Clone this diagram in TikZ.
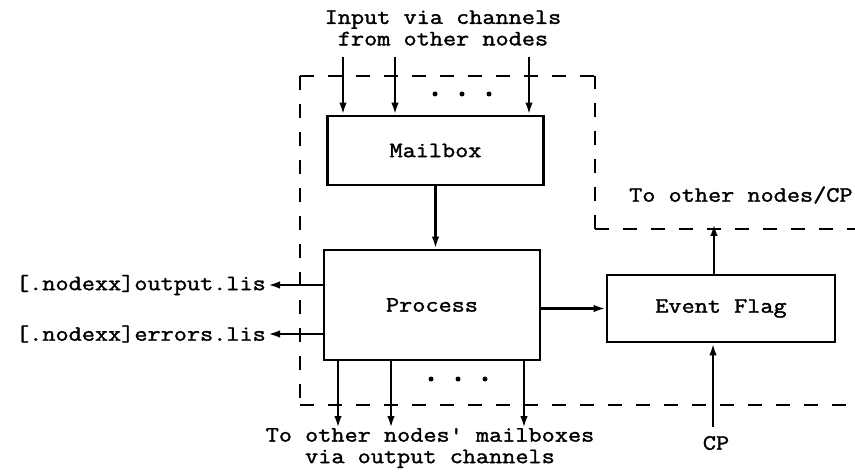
\documentclass[tikz,border=0pt]{standalone}
\usepackage{fontspec}
\newfontfamily\typefont{Latin Modern Mono}[FakeBold=1.6,FakeStretch=1.16]
\usetikzlibrary{arrows.meta}
\begin{document}
\begin{tikzpicture}[x=1pt,y=-1pt,
  box/.style={draw, line width=2.8pt, inner sep=0pt},
  lbl/.style={font=\typefont\fontsize{22}{21.5}\selectfont, inner sep=0pt, align=center},
  arr/.style={line width=2.6pt, -{Latex[length=12pt,width=7.5pt]}},
  bound/.style={line width=2.4pt, dash pattern=on 14pt off 14pt},
  dot/.style={fill, circle, inner sep=0pt, minimum size=5pt}]
\useasboundingbox (0,0) rectangle (855,476);

% boxes
\node[box, lbl, minimum width=216pt, minimum height=69pt] (mb) at (435.5,150.5) {Mailbox};
\node[box, lbl, minimum width=216pt, minimum height=110pt] (proc) at (432,305) {Process};
\node[box, lbl, minimum width=228pt, minimum height=67pt] (ev) at (721,308.5) {Event Flag};

% labels
\node[lbl] (inlbl) at (443,28) {Input via channels\\from other nodes};
\node[lbl, anchor=east] (outl) at (266,285) {[.nodexx]output.lis};
\node[lbl, anchor=east] (errl) at (266,334) {[.nodexx]errors.lis};
\node[lbl] (botl) at (430,448) {To other nodes' mailboxes\\via output channels};
\node[lbl, anchor=west] (cpl) at (629,195) {To other nodes/CP};
\node[lbl] (cp) at (716,443) {CP};

% dashed boundary
\draw[bound] (300,76) -- (595,76);
\draw[bound] (300,76) -- (300,405);
\draw[bound] (300,405) -- (855,405);
\draw[bound] (595,229) -- (595,76);
\draw[bound] (595,229) -- (855,229);

% input arrows
\coordinate (i1) at (343,57);
\coordinate (i2) at (395,57);
\coordinate (i3) at (529,57);
\foreach \c in {i1,i2,i3} \draw[arr] (\c) -- (mb.north -| \c);

% mailbox -> process
\draw[arr] (mb.south) -- (proc.north -| mb.south);

% process -> files
\draw[arr] (proc.west |- outl.east) -- ([xshift=2pt]outl.east);
\draw[arr] (proc.west |- errl.east) -- ([xshift=2pt]errl.east);

% output arrows
\coordinate (o1) at (338,428);
\coordinate (o2) at (391,428);
\coordinate (o3) at (524,428);
\foreach \c in {o1,o2,o3} \draw[arr] (proc.south -| \c) -- (\c);

% process -> event flag
\draw[arr] (proc.east |- ev.west) -- (ev.west);

% event flag up / CP
\coordinate (up) at (714,224);
\draw[arr] (ev.north -| up) -- (up);
\coordinate (cps) at (713,427);
\draw[arr] (cps) -- (ev.south -| cps);

% dots
\foreach \x in {435,462,489} \node[dot] at (\x,94) {};
\foreach \x in {431,458,485} \node[dot] at (\x,379) {};
\end{tikzpicture}
\end{document}
